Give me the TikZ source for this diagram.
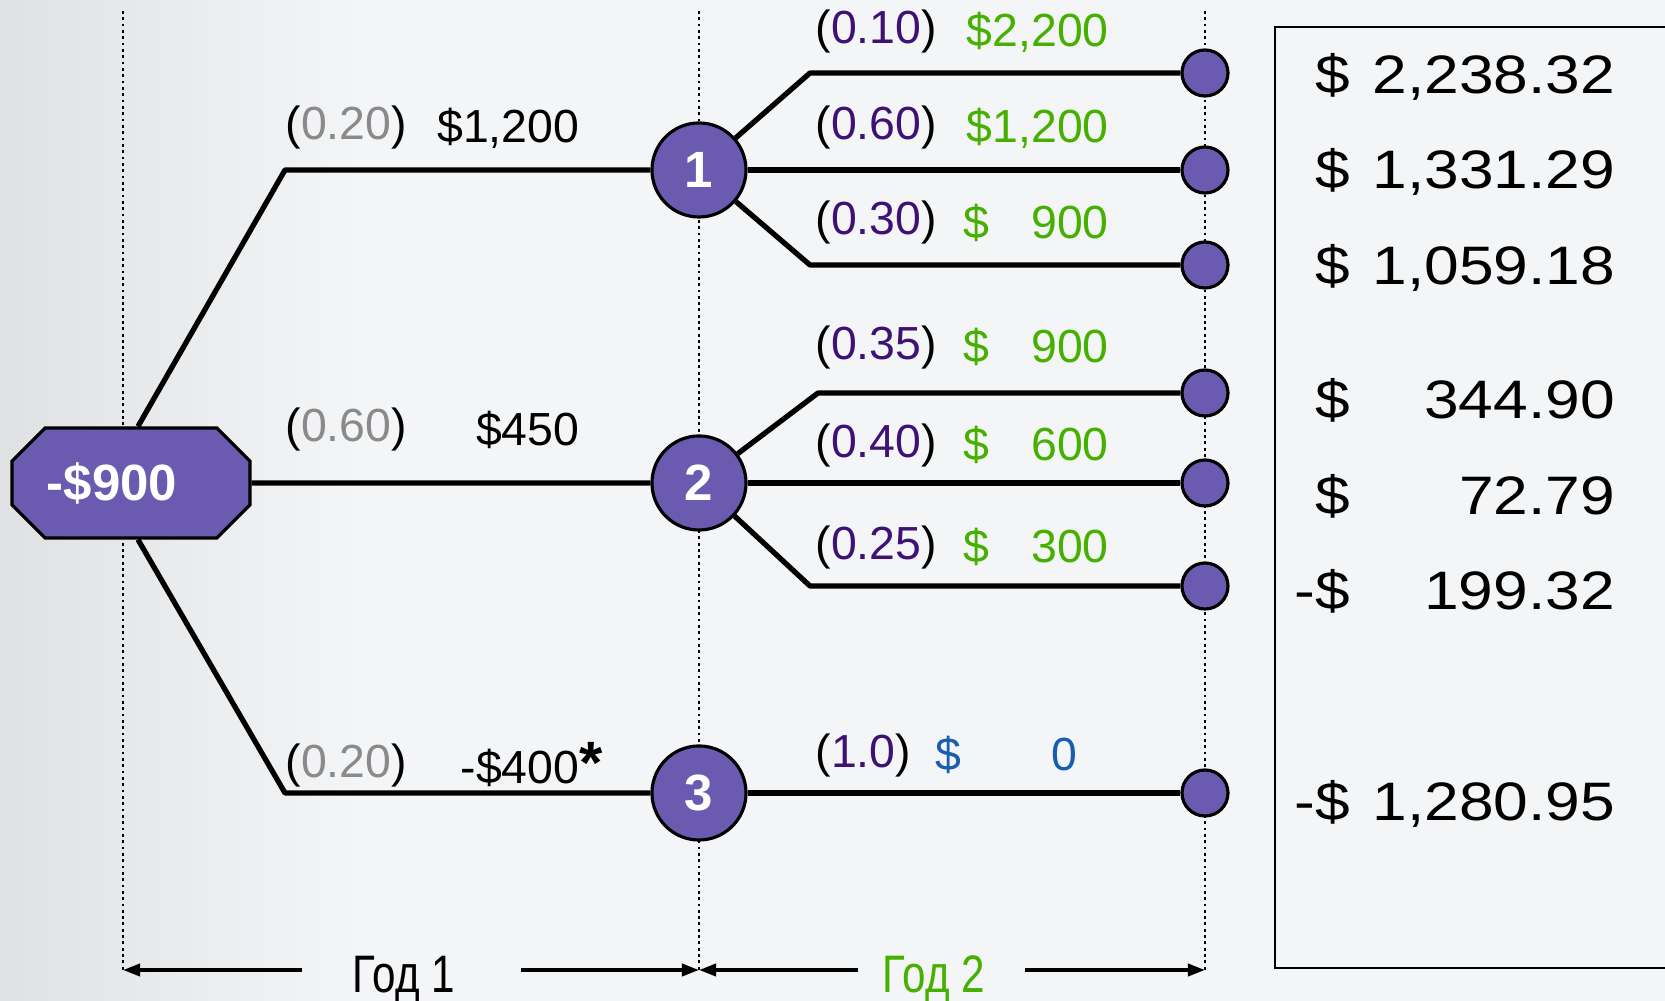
\documentclass[tikz,border=0pt]{standalone}
\usepackage{fontspec}
\setmainfont{Liberation Sans}
\newfontfamily\narrowfont[FakeStretch=0.8]{Liberation Sans}
\newfontfamily\widefont[FakeStretch=1.15]{Liberation Sans}
\usetikzlibrary{arrows.meta,positioning,shapes.misc}
\definecolor{nodepurple}{HTML}{6A5AB0}
\definecolor{probpurple}{HTML}{3E1275}
\definecolor{cashgreen}{HTML}{46B000}
\definecolor{cashblue}{HTML}{1A5DB0}
\definecolor{probgray}{HTML}{8A8A8A}
\definecolor{paper}{HTML}{F4F5F7}
\definecolor{papershade}{HTML}{E0E1E3}

% probabilities: gray in year 1, purple in year 2
\newcommand{\pone}[1]{(\textcolor{probgray}{#1})}
\newcommand{\ptwo}[1]{(\textcolor{probpurple}{#1})}
% dollar sign flush left, amount flush right
\newcommand{\cashbox}[1]{\makebox[1.45cm][r]{#1}}
\newcommand{\pvbox}[1]{\makebox[2.99cm][r]{#1}}

\begin{document}
\begin{tikzpicture}[x=0.01cm,y=-0.01cm,
	start/.style={chamfered rectangle,chamfered rectangle xsep=0.32cm,draw=black,line width=0.9pt,fill=nodepurple,minimum width=2.38cm,minimum height=1.1cm,inner sep=0pt,text=white,font=\fontsize{14.5}{16}\selectfont\bfseries},
	chance/.style={circle,draw=black,line width=0.9pt,fill=nodepurple,minimum size=0.94cm,inner sep=0pt,text=white,font=\fontsize{14.5}{16}\selectfont\bfseries},
	leaf/.style={circle,draw=black,line width=0.9pt,fill=nodepurple,minimum size=0.46cm,inner sep=0pt},
	branch/.style={line width=1.5pt,line join=round},
	grid/.style={densely dotted,line width=0.8pt},
	lbl/.style={anchor=west,inner sep=0pt,font=\fontsize{13.2}{15}\selectfont},
	amt/.style={anchor=east,inner sep=0pt,font=\fontsize{13.2}{15}\selectfont},
	pv/.style={anchor=west,inner sep=0pt,font=\widefont\fontsize{15.4}{18}\selectfont},
	yr/.style={anchor=base,inner sep=0pt,font=\narrowfont\fontsize{15}{18}\selectfont},
	span/.style={-{Triangle[length=0.17cm,width=0.12cm]},line width=1pt}
	]
	\path[use as bounding box,fill=paper] (0,0) rectangle (1665,1001);
	\shade[left color=papershade,right color=paper] (0,0) rectangle (360,1001);

	% time lines
	\coordinate (t0) at (123,11);  \coordinate (b0) at (123,970);
	\coordinate (t1) at (699,11);  \coordinate (b1) at (699,970);
	\coordinate (t2) at (1205,11); \coordinate (b2) at (1205,970);
	\draw[grid] (t0) -- (b0);
	\draw[grid] (t1) -- (b1);
	\draw[grid] (t2) -- (b2);

	% nodes
	\node[start] (s) at (131,483) {-\$900\hspace*{0.38cm}};
	\node[chance] (c1) at (699,170) {1};
	\node[chance] (c2) at (699,483) {2};
	\node[chance] (c3) at (699,793) {3};
	\node[leaf] (l11) at (1205,73) {};
	\node[leaf] (l12) at (1205,170) {};
	\node[leaf] (l13) at (1205,265) {};
	\node[leaf] (l21) at (1205,393) {};
	\node[leaf] (l22) at (1205,483) {};
	\node[leaf] (l23) at (1205,586) {};
	\node[leaf] (l31) at (1205,793) {};

	% year 1 branches
	\draw[branch] ([xshift=0.07cm]s.north) -- (285,170) -- (c1);
	\draw[branch] (s) -- (c2);
	\draw[branch] ([xshift=0.07cm]s.south) -- (285,793) -- (c3);
	% year 2 branches
	\draw[branch] (c1) -- (810,73) -- (l11);
	\draw[branch] (c1) -- (l12);
	\draw[branch] (c1) -- (810,265) -- (l13);
	\draw[branch] (c2) -- (818,393) -- (l21);
	\draw[branch] (c2) -- (l22);
	\draw[branch] (c2) -- (810,586) -- (l23);
	\draw[branch] (c3) -- (l31);

	% year 1 labels
	\node[lbl] (p1) at (285,128) {\pone{0.20}};
	\node[amt] (v1) at (580,128) {\$1,200};
	\node[lbl] (p2) at (285,430) {\pone{0.60}};
	\node[amt] (v2) at (580,430) {\$450};
	\node[lbl] (p3) at (285,765) {\pone{0.20}};
	\node[amt] (v3) at (580,765) {-\$400\rlap{\bfseries\fontsize{17}{17}\selectfont *}};

	% year 2 labels
	\node[lbl] (q11) at (815,32) {\ptwo{0.10}};
	\node[lbl,text=cashgreen] (w11) at (963,32) {\cashbox{\$2,200}};
	\node[lbl] (q12) at (815,128) {\ptwo{0.60}};
	\node[lbl,text=cashgreen] (w12) at (963,128) {\cashbox{\$1,200}};
	\node[lbl] (q13) at (815,223) {\ptwo{0.30}};
	\node[lbl,text=cashgreen] (w13) at (963,223) {\cashbox{\$\hfill 900}};
	\node[lbl] (q21) at (815,347) {\ptwo{0.35}};
	\node[lbl,text=cashgreen] (w21) at (963,347) {\cashbox{\$\hfill 900}};
	\node[lbl] (q22) at (815,445) {\ptwo{0.40}};
	\node[lbl,text=cashgreen] (w22) at (963,445) {\cashbox{\$\hfill 600}};
	\node[lbl] (q23) at (815,547) {\ptwo{0.25}};
	\node[lbl,text=cashgreen] (w23) at (963,547) {\cashbox{\$\hfill 300}};
	\node[lbl] (q31) at (815,755) {\ptwo{1.0}};
	\node[lbl,text=cashblue] (w31) at (935,755) {\makebox[1.42cm][r]{\$\hfill 0}};

	% present values
	\draw[line width=0.8pt] (1680,27) -- (1275,27) -- (1275,968) -- (1680,968);
	\node[pv] (r1) at (1315,77) {\pvbox{\$\hfill 2,238.32}};
	\node[pv] (r2) at (1315,172) {\pvbox{\$\hfill 1,331.29}};
	\node[pv] (r3) at (1315,268) {\pvbox{\$\hfill 1,059.18}};
	\node[pv] (r4) at (1315,400) {\pvbox{\$\hfill 344.90}};
	\node[pv] (r5) at (1315,496) {\pvbox{\$\hfill 72.79}};
	\node[pv] (r6) at (1315,591) {\pvbox{\llap{-}\$\hfill 199.32}};
	\node[pv] (r7) at (1315,804) {\pvbox{\llap{-}\$\hfill 1,280.95}};

	% year spans
	\node[yr] (y1) at (404,993) {Год 1};
	\node[yr,text=cashgreen] (y2) at (934,993) {Год 2};
	\draw[span,shorten <=0.5cm] (y1.west |- b0) -- (b0);
	\draw[span,shorten <=0.65cm] (y1.east |- b1) -- (b1);
	\draw[span,shorten <=0.24cm] (y2.west |- b1) -- (b1);
	\draw[span,shorten <=0.39cm] (y2.east |- b2) -- (b2);
\end{tikzpicture}
\end{document}
